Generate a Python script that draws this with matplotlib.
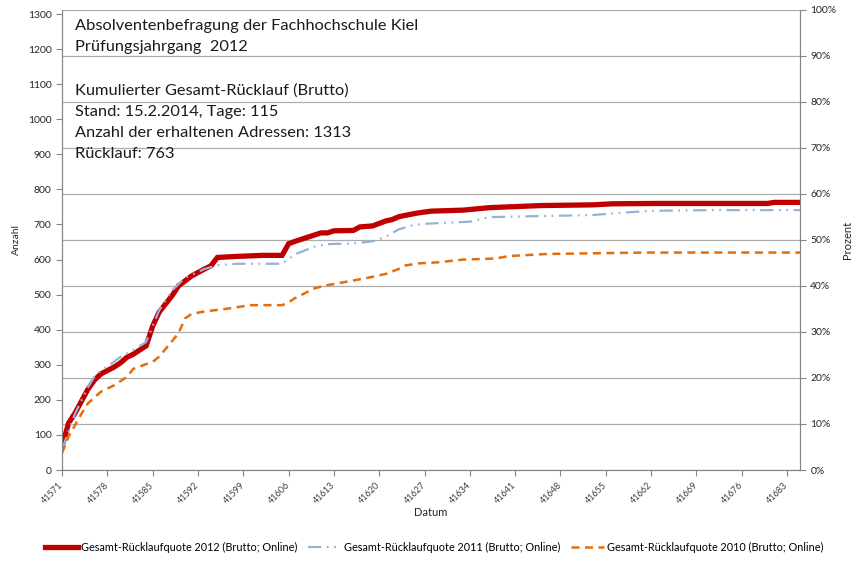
import matplotlib
matplotlib.use("Agg")
import matplotlib.pyplot as plt

# Excel-Datum des ersten Tages, Tage danach
START = 41571
ADRESSEN = 1313

tage_2012 = [0, 1, 2, 4, 5, 6, 8, 9, 10, 11, 13, 14, 15, 17, 18, 20, 22, 23, 24, 27,
             31, 34, 35, 36, 38, 40, 41, 42, 45, 46, 48, 50, 51, 52, 53, 55, 57, 62,
             66, 74, 82, 85, 92, 109, 110, 114]
anzahl_2012 = [66, 133, 162, 230, 256, 274, 293, 305, 321, 330, 354, 410, 450, 497, 525,
               553, 573, 582, 606, 609, 612, 612, 645, 652, 664, 676, 676, 682, 683, 693,
               696, 710, 714, 722, 726, 733, 738, 741, 748, 754, 756, 759, 760, 760, 763, 763]

tage_2011 = [0, 1, 2, 4, 5, 6, 7, 9, 11, 13, 14, 15, 17, 19, 22, 24, 27, 34, 36, 39,
             41, 45, 48, 50, 52, 54, 56, 63, 66, 82, 86, 91, 100, 114]
anzahl_2011 = [58, 110, 160, 236, 266, 284, 295, 322, 342, 365, 410, 455, 512, 548, 573,
               584, 588, 588, 615, 637, 644, 646, 652, 665, 686, 697, 702, 708, 721, 727,
               733, 739, 741, 741]

tage_2010 = [0, 1, 3, 4, 6, 8, 10, 11, 13, 14, 15, 16, 18, 19, 20, 22, 26, 29, 34, 35,
             36, 39, 41, 44, 47, 50, 52, 53, 55, 58, 62, 67, 69, 75, 90, 114]
anzahl_2010 = [48, 95, 160, 190, 223, 241, 265, 288, 302, 308, 323, 345, 390, 432, 445,
               452, 461, 470, 470, 478, 490, 518, 527, 537, 547, 559, 573, 583, 589, 592,
               600, 603, 610, 616, 620, 620]

labels = ["Gesamt-Rücklaufquote 2012 (Brutto; Online)",
          "Gesamt-Rücklaufquote 2011 (Brutto; Online)",
          "Gesamt-Rücklaufquote 2010 (Brutto; Online)"]

info = ["Absolventenbefragung der Fachhochschule Kiel",
        "Prüfungsjahrgang  2012",
        "Kumulierter Gesamt-Rücklauf (Brutto)",
        "Stand: 15.2.2014, Tage: 115",
        "Anzahl der erhaltenen Adressen: 1313",
        "Rücklauf: 763"]
info_y = [30, 51, 95, 116, 137, 158]   # Grundlinien in Pixel von oben

plt.rcParams['font.family'] = ['Lato', 'DejaVu Sans']
W, H = 862, 568
fig = plt.figure(figsize=(W / 100, H / 100), dpi=100)
ax = fig.add_axes([62 / W, 1 - 470 / H, 738 / W, 460.5 / H])
ax2 = ax.twinx()
ax.set_zorder(ax2.get_zorder() + 1)
ax.patch.set_visible(False)

gray = '#868686'
txt = '#262626'

x12 = [START + t for t in tage_2012]
x11 = [START + t for t in tage_2011]
x10 = [START + t for t in tage_2010]
l1, = ax.plot(x12, anzahl_2012, color='#C00000', lw=3.8, solid_joinstyle='miter',
              label=labels[0])
l2, = ax.plot(x11, anzahl_2011, color='#95B3D7', lw=1.6,
              dashes=(6, 2.5, 0.8, 2.5, 0.8, 2.5), label=labels[1])
l3, = ax.plot(x10, anzahl_2010, color='#E46C0A', lw=1.8, dashes=(3.2, 2.2),
              label=labels[2])

ax.set_xlim(START, START + 114)
ax.set_ylim(0, ADRESSEN)
ax.set_yticks(range(0, 1301, 100))
ax.set_xticks(range(START, START + 113, 7))
ax.set_xticklabels([str(v) for v in range(START, START + 113, 7)], rotation=45,
                   ha='right', va='center', rotation_mode='anchor')

ax2.set_ylim(0, 1)
ax2.set_yticks([i / 10 for i in range(11)])
ax2.set_yticklabels([f"{i * 10}%" for i in range(11)])
ax2.grid(True, axis='y', color='#ADADAD', lw=0.9)

for a in (ax, ax2):
    for s in a.spines.values():
        s.set_color(gray)
    a.spines['top'].set_visible(False)
    a.tick_params(colors=gray, labelcolor=txt, labelsize=7.5, length=4, width=0.8)
ax.tick_params(axis='x', labelsize=6.5, pad=6, labelcolor='#404040')

ax.set_ylabel("Anzahl", fontsize=7.5, color=txt, labelpad=5)
ax2.set_ylabel("Prozent", fontsize=8, color=txt, labelpad=4)
ax.set_xlabel("Datum", fontsize=8, color=txt, labelpad=1)

for s, y in zip(info, info_y):
    fig.text(75 / W, 1 - y / H, s, fontsize=11.8, color='#1a1a1a', va='baseline')

fig.legend(handles=[l1, l2, l3], loc='center', bbox_to_anchor=(0.504, 1 - 547 / H),
           ncol=3, frameon=False, fontsize=7.8, handlelength=3, columnspacing=1.0,
           handletextpad=0.3)

fig.savefig("out.png", dpi=100)
